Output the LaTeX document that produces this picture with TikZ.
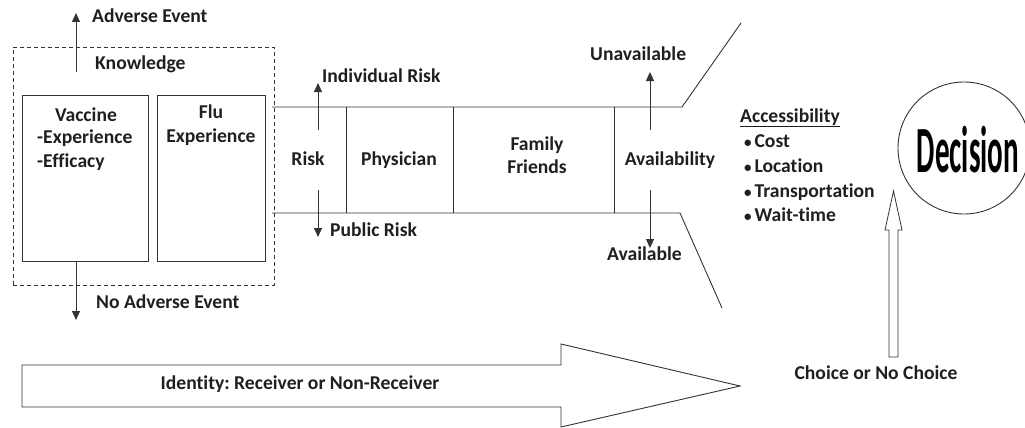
\documentclass[tikz,border=0pt]{standalone}
\usepackage{fontspec}
\setmainfont{Carlito}[RawFeature={-liga;-clig;-dlig}]
\usetikzlibrary{arrows.meta}
\frenchspacing
\begin{document}
\begin{tikzpicture}[x=1pt,y=-1pt,
  every node/.style={font=\fontsize{19.6}{23}\selectfont\bfseries, text=black!88, inner sep=0pt},
  ln/.style={draw=black!80, line width=0.9pt},
  arr/.style={ln, -{Triangle[width=8pt,length=9pt]}},
  lbl/.style={anchor=base west},
  clbl/.style={anchor=base}
]
\useasboundingbox (0,0) rectangle (1025,428);
% knowledge group
\node[draw=black!80, line width=0.8pt, dashed, dash pattern=on 4pt off 3pt, minimum width=261pt, minimum height=238pt] (kbox) at (143.5,166) {};
\node[ln, minimum width=126pt, minimum height=166pt] (vbox) at (85,178) {};
\node[ln, minimum width=108pt, minimum height=166pt] (fbox) at (211,178) {};
\node[lbl] (know) at (95,70) {Knowledge};
\node[clbl] (vac) at (86,121) {Vaccine};
\node[lbl] (vexp) at (37,143) {-Experience};
\node[lbl] (veff) at (37,167) {-Efficacy};
\node[clbl] (flu) at (211,118) {Flu};
\node[clbl] (fexp) at (211,142) {Experience};
% adverse events
\coordinate (ae1) at (76,72);
\coordinate (ae2) at (76,13);
\draw[arr] (ae1) -- (ae2);
\node[lbl] (aet) at (92,23) {Adverse Event};
\coordinate (nae1) at (76,261);
\coordinate (nae2) at (76,320);
\draw[arr] (nae1) -- (nae2);
\node[lbl] (naet) at (96,308) {No Adverse Event};
% channel
\coordinate (ct0) at (272,107);
\coordinate (ct1) at (682,107);
\coordinate (ct2) at (741,23);
\coordinate (cb0) at (272,213);
\coordinate (cb1) at (680,213);
\coordinate (cb2) at (722,308);
\draw[ln] (ct0) -- (ct1) -- (ct2);
\draw[ln] (cb0) -- (cb1) -- (cb2);
\foreach \xx/\nm in {346/d1,453/d2,614/d3}{
  \coordinate (\nm t) at (\xx,107);
  \coordinate (\nm b) at (\xx,213);
  \draw[ln] (\nm t) -- (\nm b);
}
\node[clbl] (risk) at (308,165) {Risk};
\node[clbl] (phys) at (399,165) {Physician};
\node[clbl] (fam) at (537,150) {Family};
\node[clbl] (fri) at (537,173) {Friends};
\node[clbl] (avail) at (670,165) {Availability};
% risk arrows
\coordinate (ir1) at (318,130);
\coordinate (ir2) at (318,83);
\draw[arr] (ir1) -- (ir2);
\node[lbl] (irt) at (322,82) {Individual Risk};
\coordinate (pr1) at (318,190);
\coordinate (pr2) at (318,237);
\draw[arr] (pr1) -- (pr2);
\node[lbl] (prt) at (330,236) {Public Risk};
% availability arrows
\coordinate (ua1) at (650,130);
\coordinate (ua2) at (650,72);
\draw[arr] (ua1) -- (ua2);
\node[lbl] (uat) at (590,60) {Unavailable};
\coordinate (av1) at (650,190);
\coordinate (av2) at (650,248);
\draw[arr] (av1) -- (av2);
\node[lbl] (avt) at (607,260) {Available};
% accessibility
\node[lbl] (acc) at (740,122) {\underline{Accessibility}};
\node[lbl] (b1) at (744,147) {{\fontsize{15}{15}\selectfont•}\hspace{0.15em}Cost};
\node[lbl] (b2) at (744,172) {{\fontsize{15}{15}\selectfont•}\hspace{0.15em}Location};
\node[lbl] (b3) at (744,197) {{\fontsize{15}{15}\selectfont•}\hspace{0.15em}Transportation};
\node[lbl] (b4) at (744,221) {{\fontsize{15}{15}\selectfont•}\hspace{0.15em}Wait-time};
% decision
\node[ln, circle, minimum size=132pt] (dec) at (964,148) {};
\node[clbl, text=black] (dect) at (968,172) {\scalebox{0.44}[1]{\fontsize{66}{66}\selectfont Decision}};
% choice arrow
\draw[ln, line width=0.8pt] (889,357) -- (889,230) -- (885,230) -- (893.5,191) -- (902,230) -- (898,230) -- (898,357) -- cycle;
\node[clbl] (choice) at (876,379) {Choice or No Choice};
% identity arrow
\draw[ln] (22,365) -- (561,365) -- (561,344) -- (740,386) -- (561,427) -- (561,407) -- (22,407) -- cycle;
\node[clbl] (ident) at (300,389) {Identity: Receiver or Non-Receiver};
\end{tikzpicture}
\end{document}
